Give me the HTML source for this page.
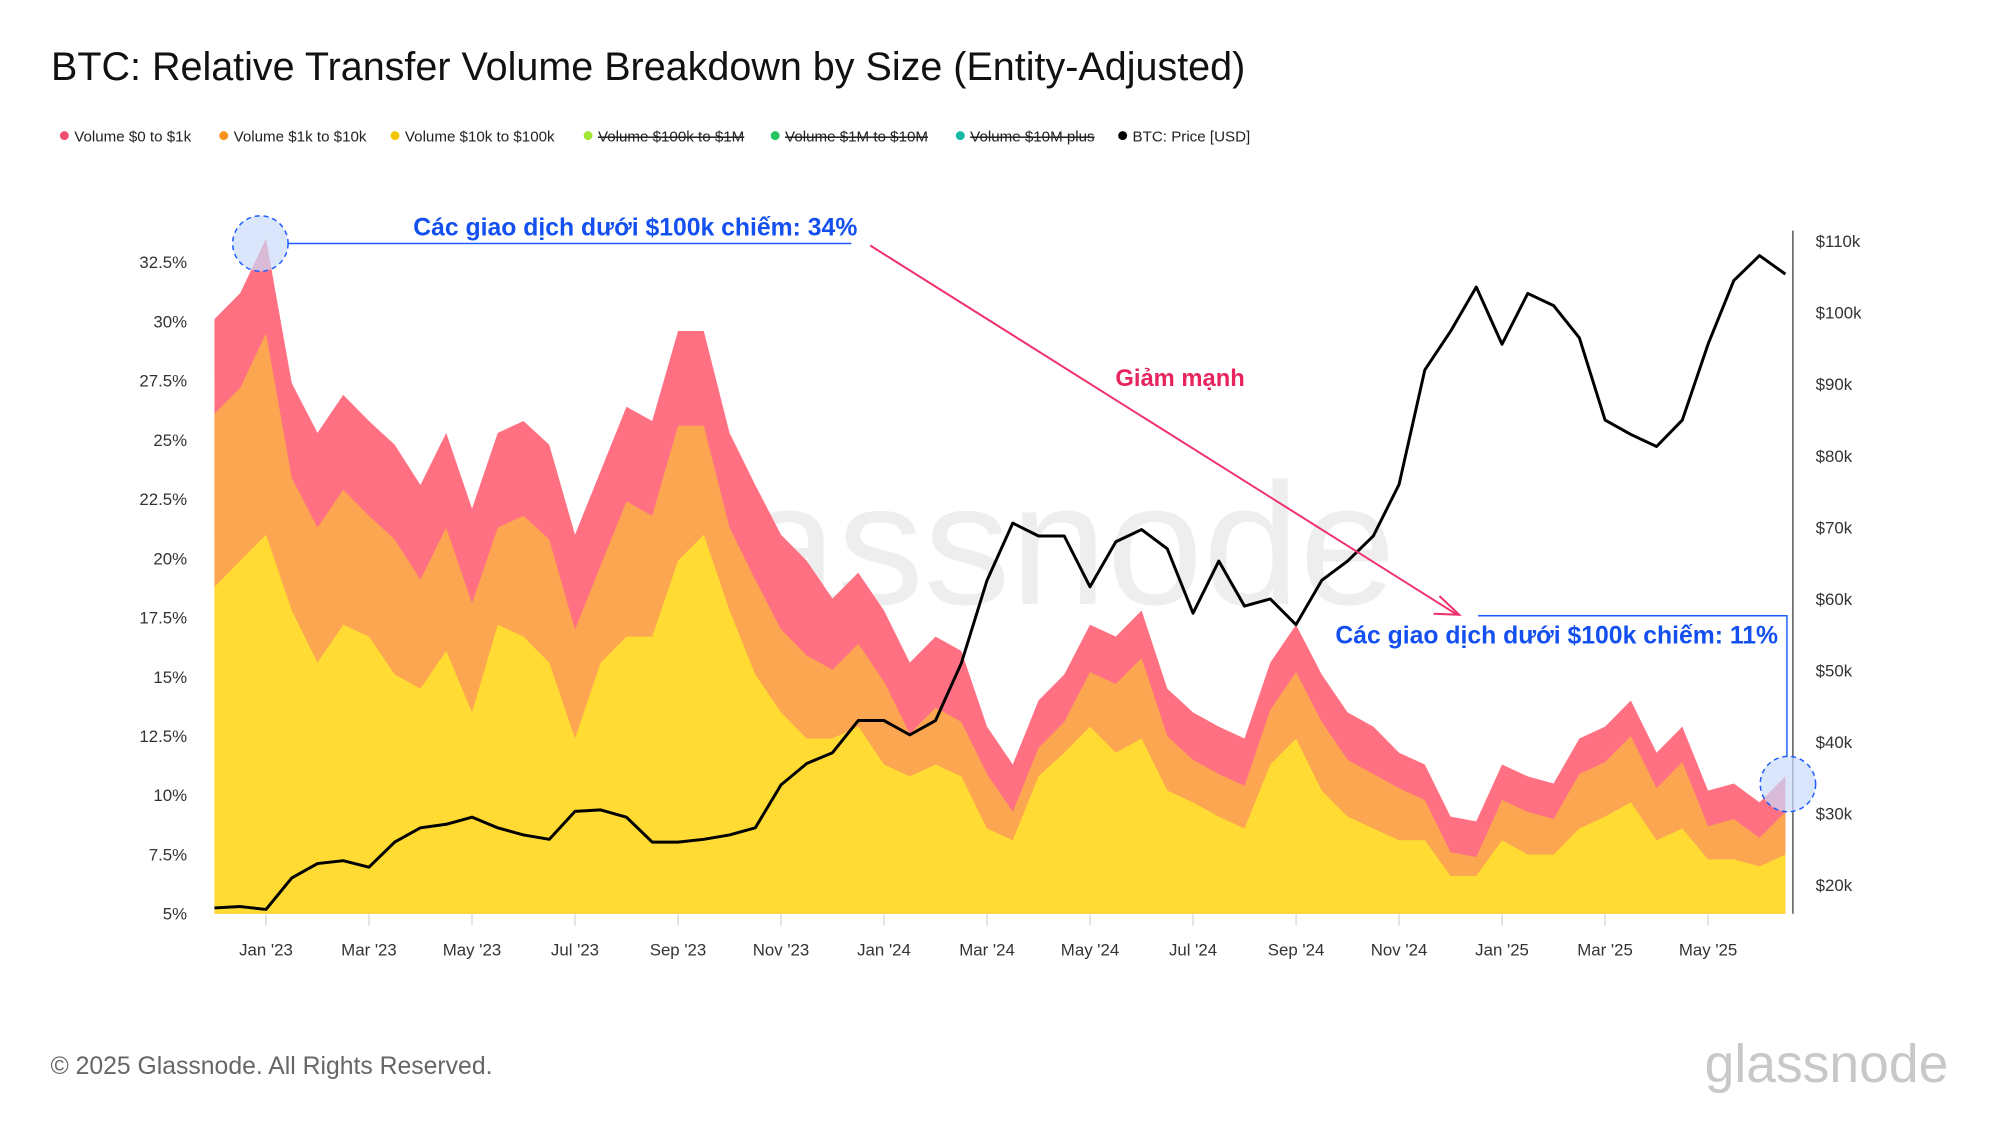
<!DOCTYPE html>
<html><head><meta charset="utf-8"><style>
body{margin:0;background:#fff;font-family:"Liberation Sans","Noto Sans CJK SC",sans-serif}
svg{display:block}
</style></head><body>
<svg id="c" width="2000" height="1125" xmlns="http://www.w3.org/2000/svg">
<text x="51" y="80" font-size="39.5" fill="#111">BTC: Relative Transfer Volume Breakdown by Size (Entity-Adjusted)</text>
<g transform="scale(0.99)">
<g id="legend" font-size="15.3" fill="#222"></g>
<text x="1011" y="610" font-size="175" fill="#cfcfcf" fill-opacity="0.35" text-anchor="middle">glassnode</text>
<g id="areas"></g>
<g id="axes"></g>
<g id="price"></g>
<g>
<circle cx="263" cy="246" r="28" fill="#c9dcfb" fill-opacity="0.7" stroke="#1d5cff" stroke-width="1.5" stroke-dasharray="5,4"/>
<line x1="291" y1="246" x2="860" y2="246" stroke="#1d5cff" stroke-width="1.5"/>
<text x="866" y="238" font-size="25" font-weight="bold" fill="#1450f0" text-anchor="end">Các giao dịch dưới $100k chiếm: 34%</text>
</g>
<g>
<line x1="879" y1="248" x2="1472" y2="621" stroke="#f0306a" stroke-width="2"/>
<polyline points="1454,602 1474,621 1448,620" fill="none" stroke="#f0306a" stroke-width="2"/>
<text x="1192" y="390" font-size="24" font-weight="bold" fill="#e8245f" text-anchor="middle">Giảm mạnh</text>
</g>
<g>
<polyline points="1493,622 1805,622 1805,765" fill="none" stroke="#1d5cff" stroke-width="1.5"/>
<text x="1796" y="650" font-size="25" font-weight="bold" fill="#1450f0" text-anchor="end">Các giao dịch dưới $100k chiếm: 11%</text>
<circle cx="1806" cy="792" r="28" fill="#c9dcfb" fill-opacity="0.7" stroke="#1d5cff" stroke-width="1.5" stroke-dasharray="5,4"/>
</g>
<text x="51" y="1085" font-size="25" fill="#666">© 2025 Glassnode. All Rights Reserved.</text>
<text x="1968" y="1093" font-size="54" fill="#c8c8c8" text-anchor="end">glassnode</text>
</g>
</svg>
<script>
const months=[-1,-0.5,0,0.5,1,1.5,2,2.5,3,3.5,4,4.5,5,5.5,6,6.5,7,7.5,8,8.5,9,9.5,10,10.5,11,11.5,12,12.5,13,13.5,14,14.5,15,15.5,16,16.5,17,17.5,18,18.5,19,19.5,20,20.5,21,21.5,22,22.5,23,23.5,24,24.5,25,25.5,26,26.5,27,27.5,28,28.5,29,29.5];
const vol10kTo100k=[18.8,19.9,21,17.8,15.6,17.2,16.7,15.1,14.5,16.1,13.5,17.2,16.7,15.6,12.4,15.6,16.7,16.7,19.9,21,17.8,15.1,13.5,12.4,12.4,12.9,11.3,10.8,11.3,10.8,8.6,8.1,10.8,11.8,12.9,11.8,12.4,10.2,9.7,9.1,8.6,11.3,12.4,10.2,9.1,8.6,8.1,8.1,6.6,6.6,8.1,7.5,7.5,8.6,9.1,9.7,8.1,8.6,7.3,7.3,7.0,7.5];
const vol1kTo10k=[7.3,7.3,8.5,5.6,5.7,5.7,5.1,5.7,4.6,5.2,4.6,4.1,5.1,5.2,4.6,4.1,5.7,5.1,5.7,4.6,3.5,4.0,3.5,3.5,2.9,3.5,3.5,1.8,2.4,2.3,2.3,1.2,1.2,1.3,2.3,2.9,3.4,2.3,1.8,1.8,1.8,2.3,2.8,2.9,2.4,2.3,2.2,1.7,1.0,0.8,1.7,1.8,1.5,2.3,2.3,2.8,2.2,2.8,1.4,1.7,1.2,1.8];
const vol0To1k=[4,4,4,4,4,4,4,4,4,4,4,4,4,4,4,4,4,4,4,4,4,4,4,4,3,3,3,3,3,3,2,2,2,2,2,2,2,2,2,2,2,2,2,2,2,2,1.5,1.5,1.5,1.5,1.5,1.5,1.5,1.5,1.5,1.5,1.5,1.5,1.5,1.5,1.5,1.5];
const priceK=[16.8,17,16.6,21,23,23.4,22.5,26,28,28.5,29.5,28,27,26.4,30.3,30.5,29.5,26,26,26.4,27,28,34,37,38.5,43,43,41,43,51,62.6,70.6,68.8,68.8,61.7,68,69.7,67,58,65.3,59,60,56.4,62.6,65.3,68.8,76,92,97.4,103.6,95.6,102.7,101,96.5,85,83,81.3,85,95.6,104.5,108,105.4];
const pctTicks=[5,7.5,10,12.5,15,17.5,20,22.5,25,27.5,30,32.5];
const priceTicks=[20,30,40,50,60,70,80,90,100,110];
const xLabels=["Jan '23","Mar '23","May '23","Jul '23","Sep '23","Nov '23","Jan '24","Mar '24","May '24","Jul '24","Sep '24","Nov '24","Jan '25","Mar '25","May '25"];
const xLabelMonths=[0,2,4,6,8,10,12,14,16,18,20,22,24,26,28];
const legendNames=["Volume $0 to $1k","Volume $1k to $10k","Volume $10k to $100k","Volume $100k to $1M","Volume $1M to $10M","Volume $10M plus","BTC: Price [USD]"];

const NS="http://www.w3.org/2000/svg";
const X0=213,X1=1807,YB=923;
const tMin=-1.07,tMax=29.57;
function xs(t){return X0+(t-tMin)/(tMax-tMin)*(X1-X0);}
function yp(v){return YB-(v-5)*23.93;}
function yr(p){return 894-(p-20)*7.226;}
function mk(tag,attrs,parent){const e=document.createElementNS(NS,tag);for(const k in attrs)e.setAttribute(k,attrs[k]);parent.appendChild(e);return e;}

const lg=document.getElementById('legend');
const lgX=[61,222,395,590,779,966,1130];
const lgC=["#f0506e","#f7931a","#f5c400","#a3e635","#22c55e","#14b8a6","#000"];
legendNames.forEach((n,i)=>{
  const g=mk('g',{},lg);
  
  
  mk('circle',{cx:lgX[i]+4,cy:137,r:4.5,fill:lgC[i]},g);
  const t=mk('text',{x:lgX[i]+14,y:143},g);
  t.textContent=n;
  if(i>=3&&i<=5)t.setAttribute('text-decoration','line-through');
});

const ar=document.getElementById('areas');
const ends=[xs(months[0]),xs(months[months.length-1])];
function topOf(i,level){let v=vol10kTo100k[i];if(level>0)v+=vol1kTo10k[i];if(level>1)v+=vol0To1k[i];return v;}
const cols=["#ffdb33","#fca652","#ff7182"];
const names=["area-10k-to-100k","area-1k-to-10k","area-0-to-1k"];
for(let L=2;L>=0;L--){
  let d='M'+ends[0]+','+YB;
  months.forEach((m,i)=>{d+=' L'+xs(m).toFixed(1)+','+Math.min(YB,yp(topOf(i,L))).toFixed(1);});
  d+=' L'+ends[1]+','+YB+' Z';
  const p=mk('path',{d:d,fill:cols[L]},ar);
  
  
}

const ax=document.getElementById('axes');
pctTicks.forEach(v=>{
  const t=mk('text',{x:189,y:yp(v)+6,'font-size':17,fill:'#333','text-anchor':'end'},ax);
  t.textContent=v+'%';
  
  
});
priceTicks.forEach(v=>{
  const t=mk('text',{x:1834,y:yr(v)+6,'font-size':17,fill:'#333'},ax);
  t.textContent='$'+v+'k';
  
  
});
const rl=mk('line',{x1:1811,y1:233,x2:1811,y2:YB,stroke:'#555','stroke-width':1.5},ax);


xLabels.forEach((l,i)=>{
  const x=xs(xLabelMonths[i]);
  mk('line',{x1:x,y1:YB,x2:x,y2:YB+12,stroke:'#ddd','stroke-width':1.5},ax);
  const t=mk('text',{x:x,y:965,'font-size':17,fill:'#333','text-anchor':'middle'},ax);
  t.textContent=l;
  
  
});

const pr=document.getElementById('price');
const pts=months.map((m,i)=>xs(m).toFixed(1)+','+yr(priceK[i]).toFixed(1)).join(' ');
const pl=mk('polyline',{points:pts,fill:'none',stroke:'#000','stroke-width':3,'stroke-linejoin':'round'},pr);


</script>
</body></html>
